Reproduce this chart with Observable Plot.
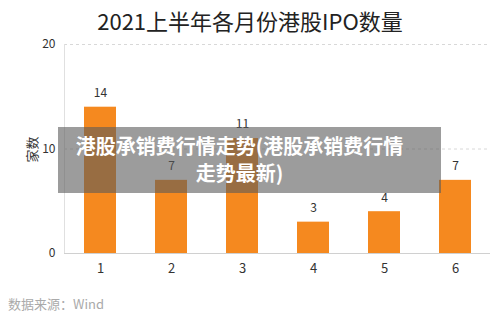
<!DOCTYPE html>
<html><head><meta charset="utf-8">
<script src="https://cdn.jsdelivr.net/npm/d3@7"></script>
<script src="https://cdn.jsdelivr.net/npm/@observablehq/plot@0.6"></script>
<style>
body{margin:0;background:#fff;font-family:"Noto Sans CJK SC","Noto Sans",sans-serif;}
#wrap{position:relative;width:500px;height:322px;overflow:hidden;}
#title{position:absolute;left:0;width:500px;top:4px;text-align:center;font-size:22px;color:#222;}
#ylab{position:absolute;left:18px;top:140px;font-size:13px;color:#333;transform:rotate(-90deg);transform-origin:center;}
#src{position:absolute;left:8px;top:294px;font-size:13px;color:#aaa;}
#overlay{position:absolute;left:58px;top:127px;width:383px;height:66px;background:rgba(90,90,90,0.6);color:#fff;font-weight:bold;font-size:20px;line-height:27px;text-align:center;padding-top:5px;box-sizing:border-box;padding-right:20px;white-space:nowrap;}
</style></head><body>
<div id="wrap">
<div id="chart"></div>
<div id="title">2021上半年各月份港股IPO数量</div>
<div id="ylab">家数</div>
<div id="src">数据来源：Wind</div>
<div id="overlay">港股承销费行情走势(港股承销费行情<br>走势最新)</div>
</div>
<script>
const months = ["1","2","3","4","5","6"];
const counts = [14,7,11,3,4,7];
const yTicks = [0,10,20];
const data = months.map((m,i)=>({month:m,count:counts[i]}));
const chart = Plot.plot({
  width:500, height:322,
  marginTop:44, marginBottom:69, marginLeft:64, marginRight:10,
  style:{fontFamily:"'Noto Sans CJK SC','Noto Sans',sans-serif",color:"#333",background:"transparent"},
  x:{domain:months, paddingInner:0.55, paddingOuter:0.275, label:null},
  y:{domain:[0,20], ticks:yTicks, label:null},
  marks:[
    Plot.ruleY(yTicks.filter(t=>t>0), {stroke:"#d8d8d8", strokeDasharray:"3,3"}),
    Plot.frame({anchor:"left", stroke:"#e0e0e0"}),
    Plot.barY(data, {x:"month", y:"count", fill:"#F5891F"}),
    Plot.ruleY([0], {stroke:"#d0d0d0"}),
    Plot.text(data, {x:"month", y:"count", text:d=>String(d.count), dy:-14, fontSize:12, fill:"#333"}),
    Plot.axisY({ticks:yTicks, tickSize:0, tickPadding:9, fontSize:12, label:null}),
    Plot.axisX({tickSize:0, tickPadding:10, fontSize:13, label:null})
  ]
});
document.getElementById("chart").appendChild(chart);
</script>
</body></html>
